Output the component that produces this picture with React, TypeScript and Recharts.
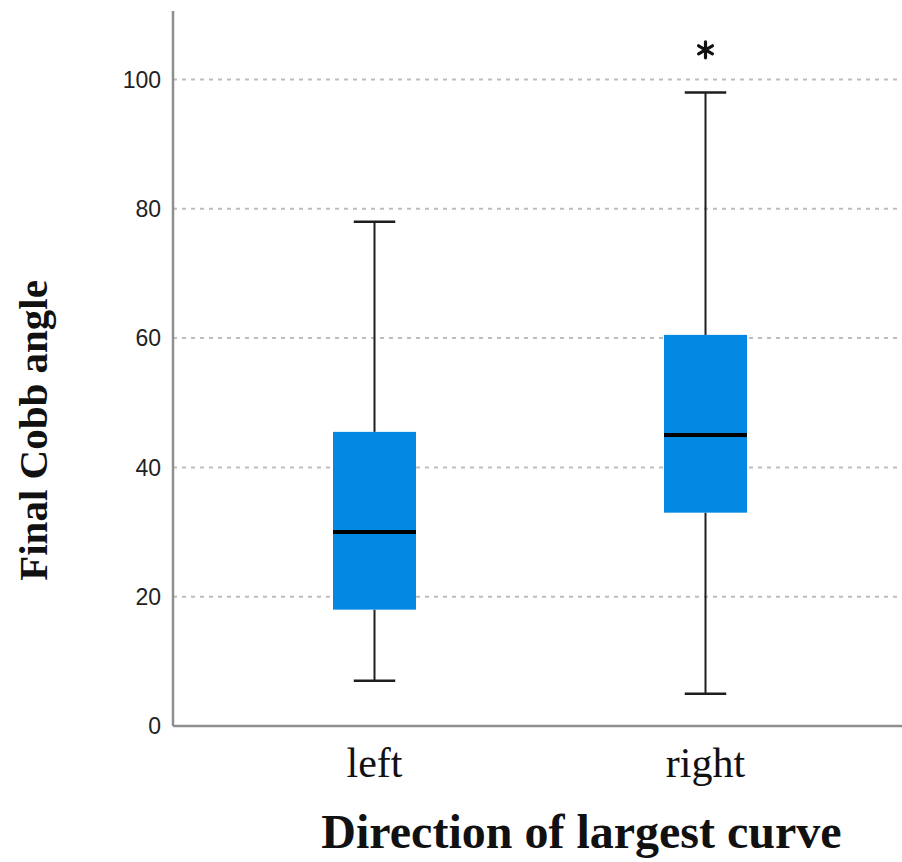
import React from "react";
import {
  ComposedChart,
  Bar,
  Scatter,
  XAxis,
  YAxis,
  CartesianGrid,
} from "recharts";

// box plot values
const categories = ["left", "right"];
const mins = [7, 5];
const q1s = [18, 33];
const medians = [30, 45];
const q3s = [45.5, 60.5];
const maxs = [78, 98];
const outliers: (number | null)[] = [null, 104.6];
const yTicks = [0, 20, 40, 60, 80, 100];

const BOX_BLUE = "#0389e4";
const INK = "#1e1e1e";

// stacked segments: base, lower whisker, lower box, upper box, upper whisker
const chartData = categories.map((cat, i) => ({
  cat,
  base: mins[i],
  lowWhisker: q1s[i] - mins[i],
  lowBox: medians[i] - q1s[i],
  highBox: q3s[i] - medians[i],
  highWhisker: maxs[i] - q3s[i],
  outlier: outliers[i],
}));

const LowWhisker = (props: any) => {
  const { x, y, width, height } = props;
  const cx = x + width / 2;
  const bottom = y + height;
  return (
    <g>
      <line x1={cx} x2={cx} y1={y} y2={bottom} stroke={INK} strokeWidth={2} />
      <line x1={cx - width / 4} x2={cx + width / 4} y1={bottom} y2={bottom} stroke={INK} strokeWidth={2.5} />
    </g>
  );
};

const HighWhisker = (props: any) => {
  const { x, y, width, height } = props;
  const cx = x + width / 2;
  return (
    <g>
      <line x1={cx} x2={cx} y1={y} y2={y + height} stroke={INK} strokeWidth={2} />
      <line x1={cx - width / 4} x2={cx + width / 4} y1={y} y2={y} stroke={INK} strokeWidth={2.5} />
    </g>
  );
};

const LowBox = (props: any) => {
  const { x, y, width, height } = props;
  return <rect x={x} y={y} width={width} height={height} fill={BOX_BLUE} />;
};

// upper half of the box also carries the median line on its bottom edge
const HighBox = (props: any) => {
  const { x, y, width, height } = props;
  return (
    <g>
      <rect x={x} y={y} width={width} height={height} fill={BOX_BLUE} />
      <line x1={x} x2={x + width} y1={y + height} y2={y + height} stroke="#000" strokeWidth={4} />
    </g>
  );
};

const Asterisk = (props: any) => {
  const { cx, cy, payload } = props;
  if (payload == null || payload.outlier == null) return <g />;
  const r = 8;
  const lines = [90, 30, -30].map((deg) => {
    const a = (deg * Math.PI) / 180;
    return (
      <line
        key={deg}
        x1={cx - r * Math.cos(a)}
        y1={cy - r * Math.sin(a)}
        x2={cx + r * Math.cos(a)}
        y2={cy + r * Math.sin(a)}
        stroke="#111"
        strokeWidth={3.2}
        strokeLinecap="round"
      />
    );
  });
  return <g>{lines}</g>;
};

const CategoryTick = (props: any) => {
  const { x, y, payload } = props;
  return (
    <text
      x={x}
      y={y + 43}
      textAnchor="middle"
      fontFamily="'Liberation Serif', serif"
      fontSize={42}
      fill="#111"
    >
      {payload.value}
    </text>
  );
};

const XTitle = (props: any) => {
  const { viewBox } = props;
  return (
    <text
      x={viewBox.x + viewBox.width / 2 + 44}
      y={viewBox.y + 122}
      textAnchor="middle"
      fontFamily="'Liberation Serif', serif"
      fontWeight="bold"
      fontSize={48}
      fill="#111"
    >
      Direction of largest curve
    </text>
  );
};

const YTitle = (props: any) => {
  const { viewBox } = props;
  const cx = viewBox.x + 47;
  const cy = viewBox.y + viewBox.height / 2 + 62;
  return (
    <text
      x={cx}
      y={cy}
      transform={`rotate(-90, ${cx}, ${cy})`}
      textAnchor="middle"
      fontFamily="'Liberation Serif', serif"
      fontWeight="bold"
      fontSize={41}
      fill="#111"
    >
      Final Cobb angle
    </text>
  );
};

export default function App() {
  return (
    <div style={{ width: 902, height: 862, background: "#fff" }}>
      <style>{`body { margin: 0; }`}</style>
      <ComposedChart
        width={902}
        height={862}
        data={chartData}
        margin={{ top: 11, right: 0, left: 0, bottom: 0 }}
        barSize={83}
      >
        <CartesianGrid
          vertical={false}
          horizontalValues={yTicks}
          stroke="#bdbdbd"
          strokeDasharray="4 5"
          strokeWidth={2}
        />
        <XAxis
          dataKey="cat"
          height={136}
          padding={{ left: 36, right: 31 }}
          tickLine={false}
          axisLine={{ stroke: "#8f8f8f", strokeWidth: 2.5 }}
          tick={<CategoryTick />}
          label={<XTitle />}
        />
        <YAxis
          width={173}
          domain={[0, 110.6]}
          ticks={yTicks}
          allowDataOverflow
          tickLine={false}
          tickMargin={6}
          axisLine={{ stroke: "#8f8f8f", strokeWidth: 2.5 }}
          tick={{ fill: "#222", fontSize: 23, fontFamily: "'Liberation Sans', sans-serif" }}
          label={<YTitle />}
        />
        <Bar dataKey="base" stackId="box" fill="transparent" isAnimationActive={false} />
        <Bar dataKey="lowWhisker" stackId="box" shape={<LowWhisker />} isAnimationActive={false} />
        <Bar dataKey="lowBox" stackId="box" shape={<LowBox />} isAnimationActive={false} />
        <Bar dataKey="highBox" stackId="box" shape={<HighBox />} isAnimationActive={false} />
        <Bar dataKey="highWhisker" stackId="box" shape={<HighWhisker />} isAnimationActive={false} />
        <Scatter dataKey="outlier" shape={<Asterisk />} isAnimationActive={false} />
      </ComposedChart>
    </div>
  );
}
